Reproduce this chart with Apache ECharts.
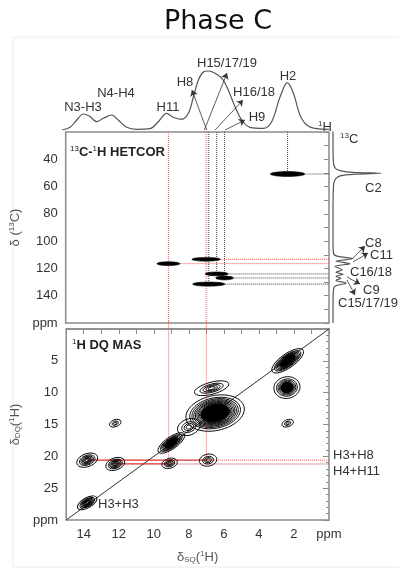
<!DOCTYPE html>
<html>
<head>
<meta charset="utf-8">
<script src="https://cdn.jsdelivr.net/npm/echarts@6/dist/echarts.min.js"></script>
<style>
html, body { margin: 0; padding: 0; background: #fff; }
#chart { width: 399px; height: 573px; }
</style>
</head>
<body>
<div id="chart"></div>
<script>
// 1H projection on top (ppm, relative height)
var hPpm = [15.0, 14.55, 14.17, 13.8, 13.47, 13.05, 12.68, 12.21, 11.84, 11.37, 10.8, 10.06, 9.59, 9.12, 8.75, 8.28, 7.9, 7.62, 7.34, 7.06, 6.78, 6.4, 5.97, 5.66, 5.28, 4.9, 4.44, 3.69, 3.22, 2.75, 2.34, 2.0, 1.63, 1.25, 0.69, 0.0];
var hInt = [0, 2.7, 10, 16, 14, 8.3, 11.7, 15, 10, 2.7, 0.7, 1.3, 8.3, 16.7, 12.7, 10.7, 16.7, 33, 50, 58, 59, 56.7, 50.7, 40, 23.3, 10, 2.7, 1.7, 8.3, 33, 47.3, 36.7, 15, 5, 1.3, 0.7];

// 13C projection on the right (ppm, relative height)
var cPpm = [18, 30, 40, 44, 47, 48.5, 49.6, 50.3, 51, 52, 54, 57, 62, 80, 100, 109, 111, 112.8, 114.6, 116.5, 118.5, 121, 122.8, 124.3, 125.8, 127.2, 128.8, 130.8, 133, 137, 150, 160];
var cInt = [0, 0, 0.3, 0.8, 3, 8, 20, 48, 20, 8, 3, 1, 0.3, 0, 0, 0.5, 4, 20, 3, 17, 2, 9, 3, 10, 3, 8, 3, 13, 2, 0.3, 0, 0];

// HETCOR cross peaks: 1H ppm, 13C ppm, half widths (ppm)
var hetH = [2.36, 9.15, 7.0, 6.4, 5.95, 6.85];
var hetC = [50.8, 116.5, 113.3, 124.0, 127.0, 131.5];
var hetHalfH = [0.98, 0.65, 0.81, 0.65, 0.5, 0.92];
var hetHalfC = [1.8, 1.4, 1.4, 1.4, 1.4, 1.5];
var hetLinked = [1, 2]; // peaks traced down into the DQ spectrum

// DQ MAS peaks: SQ ppm, DQ ppm, half axes (ppm), tilt (deg), contour levels
var dqSQ = [2.36, 2.4, 2.36, 6.7, 6.5, 8.0, 9.0, 6.9, 9.1, 12.2, 13.8, 12.2, 13.8];
var dqDQ = [5.0, 9.2, 14.8, 9.3, 13.2, 15.4, 17.9, 20.6, 21.1, 21.2, 20.6, 14.8, 27.3];
var dqAx = [1.07, 0.75, 0.34, 1.01, 1.69, 0.67, 0.9, 0.5, 0.45, 0.56, 0.62, 0.34, 0.62];
var dqAy = [1.10, 1.7, 0.55, 0.94, 2.75, 1.26, 0.94, 0.94, 0.78, 0.94, 1.02, 0.55, 0.78];
var dqTilt = [35, 10, 20, 15, 12, 20, 35, 10, 15, 20, 20, 20, 30];
var dqLevels = [14, 10, 3, 5, 20, 4, 12, 4, 5, 7, 7, 3, 8];

// correlation rows
var rowLabel = ['H3+H8', 'H4+H11'];
var rowDQ = [20.6, 21.2];
var rowFrom = [13.8, 12.3];
var rowTo = [6.9, 9.1];

var FONT = 'Liberation Sans, Arial, sans-serif';
var GRAY = '#8a8a8a';
var sup = { fontSize: 8, padding: [0, 0, 6, 0] };
var sub = { fontSize: 8, padding: [6, 0, 0, 0] };

var chart = echarts.init(document.getElementById('chart'));

function pairs(xs, ys) {
	var out = [];
	for (var i = 0; i < xs.length; i++) out.push([xs[i], ys[i]]);
	return out;
}

function guide(idx, a, b, color, type, width) {
	return {
		type: 'line', xAxisIndex: idx, yAxisIndex: idx,
		data: [a, b], showSymbol: false, symbol: 'none', clip: false, silent: true, z: 2,
		lineStyle: { color: color, width: width || 1, type: type }
	};
}

function contourItem(params, api) {
	var c = api.coord([api.value(0), api.value(1)]);
	var s = api.size([api.value(2), api.value(3)]);
	var n = api.value(5);
	var kids = [];
	for (var k = 0; k < n; k++) {
		var f = 1 - 0.92 * Math.pow(k / n, 0.65);
		kids.push({
			type: 'ellipse',
			shape: { cx: 0, cy: 0, rx: s[0] * f, ry: s[1] * f },
			style: { fill: 'none', stroke: '#000', lineWidth: 0.9 }
		});
	}
	// strong peaks plot as a solid core
	if (n >= 9) {
		kids.push({
			type: 'ellipse',
			shape: { cx: 0, cy: 0, rx: s[0] * 0.5, ry: s[1] * 0.5 },
			style: { fill: '#000', stroke: 'none' }
		});
	}
	return { type: 'group', x: c[0], y: c[1], rotation: api.value(4) * Math.PI / 180, children: kids };
}

function hetItem(params, api) {
	var c = api.coord([api.value(0), api.value(1)]);
	var s = api.size([api.value(2), api.value(3)]);
	return {
		type: 'ellipse',
		shape: { cx: c[0], cy: c[1], rx: s[0], ry: s[1] },
		style: { fill: '#000', stroke: '#000', lineWidth: 0.6 }
	};
}

function label(x, y, text, o) {
	o = o || {};
	return {
		type: 'text', x: x, y: y, silent: true,
		style: {
			text: text, fontFamily: o.family || FONT, fontSize: o.size || 13,
			fontWeight: o.weight || 'normal', fill: o.color || '#333',
			textAlign: o.align || 'left', align: o.align || 'left',
			textVerticalAlign: 'middle', verticalAlign: 'middle',
			rich: { s: sup, b: sub }
		}
	};
}

var hetData = [];
for (var i = 0; i < hetH.length; i++) hetData.push([hetH[i], hetC[i], hetHalfH[i], hetHalfC[i]]);
var dqData = [];
for (var j = 0; j < dqSQ.length; j++) dqData.push([dqSQ[j], dqDQ[j], dqAx[j], dqAy[j], dqTilt[j], dqLevels[j]]);

var series = [
	{
		type: 'line', xAxisIndex: 0, yAxisIndex: 0, data: pairs(hPpm, hInt),
		smooth: 0.35, showSymbol: false, symbol: 'none', silent: true,
		lineStyle: { color: '#555', width: 1.2 },
		markLine: {
			silent: true, symbol: ['none', 'arrow'], symbolSize: 6, animation: false,
			label: { show: false },
			lineStyle: { color: '#333', width: 0.8, type: 'solid' },
			data: [
				[{ coord: [6.87, 0] }, { coord: [7.7, 40] }],
				[{ coord: [7.0, 0] }, { coord: [5.73, 57] }],
				[{ coord: [6.4, 0] }, { coord: [4.83, 30] }],
				[{ coord: [5.84, 0] }, { coord: [4.72, 10] }]
			]
		}
	},
	{
		type: 'line', xAxisIndex: 2, yAxisIndex: 2, data: pairs(cInt, cPpm),
		smooth: 0.3, showSymbol: false, symbol: 'none', silent: true,
		lineStyle: { color: '#555', width: 1.2 },
		markLine: {
			silent: true, symbol: ['none', 'arrow'], symbolSize: 6, animation: false,
			label: { show: false },
			lineStyle: { color: '#333', width: 0.8, type: 'solid' },
			data: [
				[{ coord: [20, 112.4] }, { coord: [32, 103.6] }],
				[{ coord: [20, 115.3] }, { coord: [35, 108.7] }],
				[{ coord: [14, 126.3] }, { coord: [27, 131.4] }],
				[{ coord: [14, 128.5] }, { coord: [22, 139.5] }]
			]
		}
	}
];

// HETCOR guide lines
for (var h = 0; h < hetH.length; h++) {
	var red = hetLinked.indexOf(h) >= 0;
	var col = red ? '#e06060' : '#444';
	series.push(guide(1, [hetH[h], 20], [hetH[h], red ? 160 : hetC[h]], col, 'dotted'));
	series.push(guide(1, [hetH[h], hetC[h]], [0, hetC[h]], col, 'dotted'));
}
// red traces continuing into DQ
series.push(guide(3, [hetH[2], -1.2], [hetH[2], rowDQ[0]], '#e06060', 'dotted'));
series.push(guide(3, [hetH[1], -1.2], [hetH[1], rowDQ[1]], '#e06060', 'dotted'));
for (var r = 0; r < rowDQ.length; r++) {
	series.push(guide(3, [rowTo[r], rowDQ[r]], [0, rowDQ[r]], r === 0 ? '#e06060' : '#b04040', 'dotted'));
	series.push(guide(3, [rowFrom[r], rowDQ[r]], [rowTo[r], rowDQ[r]], '#e02a2a', 'solid', 1.2));
}
// diagonal DQ = 2 SQ
series.push(guide(3, [15, 30], [0, 0], '#333', 'solid', 1));

series.push({ type: 'custom', xAxisIndex: 1, yAxisIndex: 1, data: hetData, renderItem: hetItem, silent: true, z: 5 });
series.push({ type: 'custom', xAxisIndex: 3, yAxisIndex: 3, data: dqData, renderItem: contourItem, silent: true, clip: true, z: 5 });

var tickStyle = { color: GRAY, width: 1 };
var labelStyle = { color: '#333', fontSize: 13, fontFamily: FONT };
var nameStyle = { color: '#555', fontSize: 13, fontFamily: FONT, rich: { s: sup, b: sub } };

var option = {
	animation: false,
	backgroundColor: '#fff',
	grid: [
		{ left: 62, top: 40, width: 267, height: 90 },
		{ left: 62, top: 132, width: 267, height: 191, show: true, borderColor: GRAY, borderWidth: 1.5 },
		{ left: 333, top: 132, width: 60, height: 191 },
		{ left: 62, top: 329, width: 267, height: 191, show: true, borderColor: GRAY, borderWidth: 1.5 }
	],
	xAxis: [
		{ gridIndex: 0, type: 'value', min: 0, max: 15, inverse: true, show: false },
		{ gridIndex: 1, type: 'value', min: 0, max: 15, inverse: true, show: false },
		{ gridIndex: 2, type: 'value', min: 0, max: 60, show: false },
		{
			gridIndex: 3, type: 'value', min: 0, max: 15, interval: 1, inverse: true,
			axisLine: { show: true, lineStyle: { color: GRAY, width: 1.5 } },
			axisTick: { show: true, length: 5, lineStyle: tickStyle },
			splitLine: { show: false },
			axisLabel: Object.assign({ margin: 8, interval: 0, showMinLabel: true, showMaxLabel: true,
				formatter: function (v) { if (v === 0) return 'ppm'; return v % 2 === 0 ? String(v) : ''; } }, labelStyle),
			name: 'δ{b|SQ}({s|1}H)', nameLocation: 'middle', nameGap: 30, nameTextStyle: nameStyle
		}
	],
	yAxis: [
		{ gridIndex: 0, type: 'value', min: 0, max: 90, show: false },
		{
			gridIndex: 1, type: 'value', min: 20, max: 160, interval: 20, inverse: true,
			axisLine: { show: false },
			axisTick: { show: true, length: 5, lineStyle: tickStyle },
			minorTick: { show: true, splitNumber: 2, length: 5, lineStyle: tickStyle },
			splitLine: { show: false }, minorSplitLine: { show: false },
			axisLabel: Object.assign({ margin: 8, showMinLabel: true, showMaxLabel: true,
				formatter: function (v) { if (v === 160) return 'ppm'; if (v === 20) return ''; return String(v); } }, labelStyle),
			name: 'δ ({s|13}C)', nameLocation: 'middle', nameRotate: 90, nameGap: 36, nameTextStyle: nameStyle
		},
		{ gridIndex: 2, type: 'value', min: 20, max: 160, inverse: true, show: false },
		{
			gridIndex: 3, type: 'value', min: 0, max: 30, interval: 5, inverse: true,
			axisLine: { show: false },
			axisTick: { show: true, length: 6, lineStyle: tickStyle },
			minorTick: { show: true, splitNumber: 5, length: 3, lineStyle: tickStyle },
			splitLine: { show: false }, minorSplitLine: { show: false },
			axisLabel: Object.assign({ margin: 8, showMinLabel: true, showMaxLabel: true,
				formatter: function (v) { if (v === 30) return 'ppm'; if (v === 0) return ''; return String(v); } }, labelStyle),
			name: 'δ{b|DQ}({s|1}H)', nameLocation: 'middle', nameRotate: 90, nameGap: 34, nameTextStyle: nameStyle
		}
	],
	graphic: [
		{ type: 'rect', shape: { x: 13, y: 37, width: 400, height: 530 }, style: { fill: 'none', stroke: '#ececec', lineWidth: 1 }, silent: true, z: -10 },
		label(218, 22, 'Phase C', { size: 27, align: 'center', color: '#111', family: 'DejaVu Sans, sans-serif' }),
		label(83, 107, 'N3-H3', { align: 'center' }),
		label(116, 93, 'N4-H4', { align: 'center' }),
		label(168, 107, 'H11', { align: 'center' }),
		label(185, 82, 'H8', { align: 'center' }),
		label(227, 63, 'H15/17/19', { align: 'center' }),
		label(254, 92, 'H16/18', { align: 'center' }),
		label(257, 117, 'H9', { align: 'center' }),
		label(288, 76, 'H2', { align: 'center' }),
		label(318, 127, '{s|1}H'),
		label(340, 139, '{s|13}C'),
		label(365, 188, 'C2'),
		label(365, 243, 'C8'),
		label(370, 255, 'C11'),
		label(350, 272, 'C16/18'),
		label(363, 290, 'C9'),
		label(338, 303, 'C15/17/19'),
		label(70, 152, '{s|13}C-{s|1}H HETCOR', { weight: 'bold', color: '#222' }),
		label(72, 345, '{s|1}H DQ MAS', { weight: 'bold', color: '#222' }),
		label(98, 504, 'H3+H3'),
		label(333, 455, rowLabel[0]),
		label(333, 471, rowLabel[1])
	],
	series: series
};

chart.setOption(option);
</script>
</body>
</html>
